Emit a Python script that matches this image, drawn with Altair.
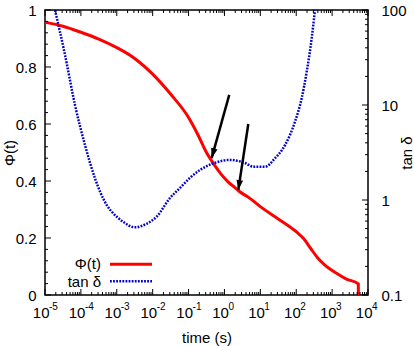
import altair as alt
import pandas as pd

# ---------------- data ----------------
red_t = [1e-5, 3.16e-5, 1e-4, 3.16e-4, 1e-3, 3.16e-3, 0.01, 0.0316, 0.1, 0.178,
         0.316, 0.501, 0.794, 1.26, 2.0, 2.51, 5.01, 10, 31.6, 100,
         158, 251, 398, 631, 1259, 2512, 5370, 5400]
red_phi = [0.957, 0.943, 0.922, 0.898, 0.868, 0.830, 0.775, 0.705, 0.623, 0.565,
           0.500, 0.460, 0.425, 0.397, 0.376, 0.365, 0.340, 0.310, 0.267, 0.222,
           0.199, 0.164, 0.130, 0.105, 0.078, 0.056, 0.039, 0.0]

blue_t = [1.90e-5, 3.61e-5, 6.85e-5, 1.30e-4, 2.47e-4, 5.24e-4, 8.0e-4, 1.40e-3, 3.22e-3,
          6.52e-3, 0.0129, 0.0304, 0.0578, 0.110, 0.208, 0.490, 1.43, 3.74, 6.37,
          13.5, 25.6, 48.8, 92.5, 142, 196, 270, 333]
blue_tan = [100, 33.6, 10.0, 3.79, 1.69, 0.885, 0.724, 0.601, 0.516,
            0.558, 0.667, 1.05, 1.34, 1.71, 2.07, 2.43, 2.64, 2.45, 2.24,
            2.24, 2.75, 3.79, 6.67, 11.8, 22.4, 50.4, 100]

# arrows: tail (t, phi) -> tip (t, phi), head rotation
arrow_t_tail = [1.36, 4.62]
arrow_phi_tail = [0.702, 0.600]
arrow_t_tip = [0.44, 2.43]
arrow_phi_tip = [0.48, 0.368]
arrow_angle = [15.5, 8.6]

# axes
x_major = [1e-5, 1e-4, 1e-3, 1e-2, 1e-1, 1e0, 1e1, 1e2, 1e3, 1e4]
x_exponents = ["-5", "-4", "-3", "-2", "-1", "0", "1", "2", "3", "4"]
x_minor = [m * 10.0 ** k for k in range(-5, 4) for m in range(2, 10)]
yl_major = [0, 0.2, 0.4, 0.6, 0.8, 1.0]
yl_minor = [0.04, 0.08, 0.12, 0.16, 0.24, 0.28, 0.32, 0.36, 0.44, 0.48, 0.52, 0.56,
            0.64, 0.68, 0.72, 0.76, 0.84, 0.88, 0.92, 0.96]
yr_major = [0.1, 1, 10, 100]
yr_minor = [m * 10.0 ** k for k in range(-1, 2) for m in range(2, 10)]

legend_labels = ["Φ(t)", "tan δ"]

# ---------------- chart ----------------
W, H = 323, 285
FONT = "Liberation Sans"
RED = "#ff0000"
BLUE = "#0000d0"

xs = alt.Scale(type="log", domain=[1e-5, 1e4], nice=False)
yls = alt.Scale(type="linear", domain=[0, 1], nice=False, zero=False)
yrs = alt.Scale(type="log", domain=[0.1, 100], nice=False)

red_df = pd.DataFrame({"t": red_t, "phi": red_phi, "i": range(len(red_t))})
blue_df = pd.DataFrame({"t": blue_t, "tan": blue_tan})
arrow_df = pd.DataFrame({"t1": arrow_t_tail, "p1": arrow_phi_tail,
                         "t2": arrow_t_tip, "p2": arrow_phi_tip, "ang": arrow_angle})

red = alt.Chart(red_df).mark_line(color=RED, strokeWidth=3, clip=True,
                                  interpolate="monotone").encode(
    x=alt.X("t:Q", scale=xs, axis=alt.Axis(
        values=x_major, labelExpr="'10'", labelAlign="right", labelOffset=4,
        labelBaseline="top", labelPadding=10, ticks=False, domain=False, grid=False,
        labelFlush=False, labelOverlap=False, title="time (s)",
        titleX=W / 2, titleY=47, titleAlign="center", titleBaseline="alphabetic")),
    y=alt.Y("phi:Q", scale=yls, axis=alt.Axis(
        values=yl_major, format="~g", ticks=False, domain=False, grid=False,
        labelPadding=9, labelOverlap=False, title="Φ(t)", titleAngle=270,
        titleX=-36, titleY=H / 2, titleAlign="center", titleBaseline="middle")),
    order=alt.Order("i:Q"),
)

blue = alt.Chart(blue_df).mark_line(color=BLUE, strokeWidth=2.5, strokeDash=[1.8, 1.3],
                                    clip=True, interpolate="monotone").encode(
    x=alt.X("t:Q", scale=xs, axis=None),
    y=alt.Y("tan:Q", scale=yrs, axis=alt.Axis(
        orient="right", values=yr_major, format="~g", ticks=False, domain=False,
        grid=False, labelPadding=13, labelOverlap=False, title="tan δ", titleAngle=270,
        titleX=38, titleY=H / 2, titleAlign="center", titleBaseline="middle")),
)

arrow_lines = alt.Chart(arrow_df).mark_rule(color="black", strokeWidth=2.5).encode(
    x=alt.X("t1:Q", scale=xs, axis=None), x2="t2:Q",
    y=alt.Y("p1:Q", scale=yls, axis=None), y2="p2:Q",
)
arrow_heads = alt.Chart(arrow_df).mark_point(
    shape="M0,0 L-0.33,-1 L0.33,-1 Z", size=400, filled=True, color="black",
    opacity=1, strokeWidth=0).encode(
    x=alt.X("t2:Q", scale=xs, axis=None),
    y=alt.Y("p2:Q", scale=yls, axis=None),
    angle=alt.Angle("ang:Q", scale=None),
)

exp_df = pd.DataFrame({"v": x_major, "e": x_exponents})
exponents = alt.Chart(exp_df).mark_text(
    align="left", baseline="alphabetic", fontSize=10, font=FONT, color="black", dx=4).encode(
    x=alt.X("v:Q", scale=xs, axis=None), y=alt.value(H + 15), text="e:N")


def xticks(vals, ln, top):
    d = pd.DataFrame({"v": vals})
    y0 = 0 if top else H
    y1 = ln if top else H - ln
    return alt.Chart(d).mark_rule(color="black", strokeWidth=1).encode(
        x=alt.X("v:Q", scale=xs, axis=None), y=alt.value(y0), y2=alt.value(y1))


def yticks(vals, scale, ln, right):
    d = pd.DataFrame({"v": vals})
    x0 = W if right else 0
    x1 = W - ln if right else ln
    return alt.Chart(d).mark_rule(color="black", strokeWidth=1).encode(
        y=alt.Y("v:Q", scale=scale, axis=None), x=alt.value(x0), x2=alt.value(x1))


ticks = [
    xticks(x_major, 6, False), xticks(x_minor, 3, False),
    xticks(x_major, 6, True), xticks(x_minor, 3, True),
    yticks(yl_major, yls, 6, False), yticks(yl_minor, yls, 3, False),
    yticks(yr_major, yrs, 6, True), yticks(yr_minor, yrs, 3, True),
]

leg_text1 = alt.Chart(pd.DataFrame({"l": [legend_labels[0]]})).mark_text(
    align="right", baseline="alphabetic", fontSize=15, font=FONT, color="black").encode(
    text="l:N", x=alt.value(56), y=alt.value(258.5))
leg_text2 = alt.Chart(pd.DataFrame({"l": [legend_labels[1]]})).mark_text(
    align="right", baseline="alphabetic", fontSize=15, font=FONT, color="black").encode(
    text="l:N", x=alt.value(56), y=alt.value(276.5))
leg_line1 = alt.Chart(pd.DataFrame({"l": [legend_labels[0]]})).mark_rule(
    color=RED, strokeWidth=3).encode(x=alt.value(65), x2=alt.value(107), y=alt.value(254.3))
leg_line2 = alt.Chart(pd.DataFrame({"l": [legend_labels[1]]})).mark_rule(
    color=BLUE, strokeWidth=2.5, strokeDash=[1.8, 1.3]).encode(
    x=alt.value(65), x2=alt.value(107), y=alt.value(271.3))

chart = alt.layer(
    red, blue, *ticks, arrow_lines, arrow_heads, exponents,
    leg_text1, leg_text2, leg_line1, leg_line2,
).resolve_scale(x="independent", y="independent").properties(
    width=W, height=H,
    autosize=alt.AutoSizeParams(type="none"),
    padding={"left": 45, "top": 10, "right": 46, "bottom": 51},
    background="white",
).configure_view(stroke="black", strokeWidth=1.5).configure_axis(
    labelFont=FONT, labelFontSize=15, labelColor="black",
    titleFont=FONT, titleFontSize=15, titleColor="black", titleFontWeight="normal",
)

chart.save("out.html", embed_options={"renderer": "svg", "actions": False})
